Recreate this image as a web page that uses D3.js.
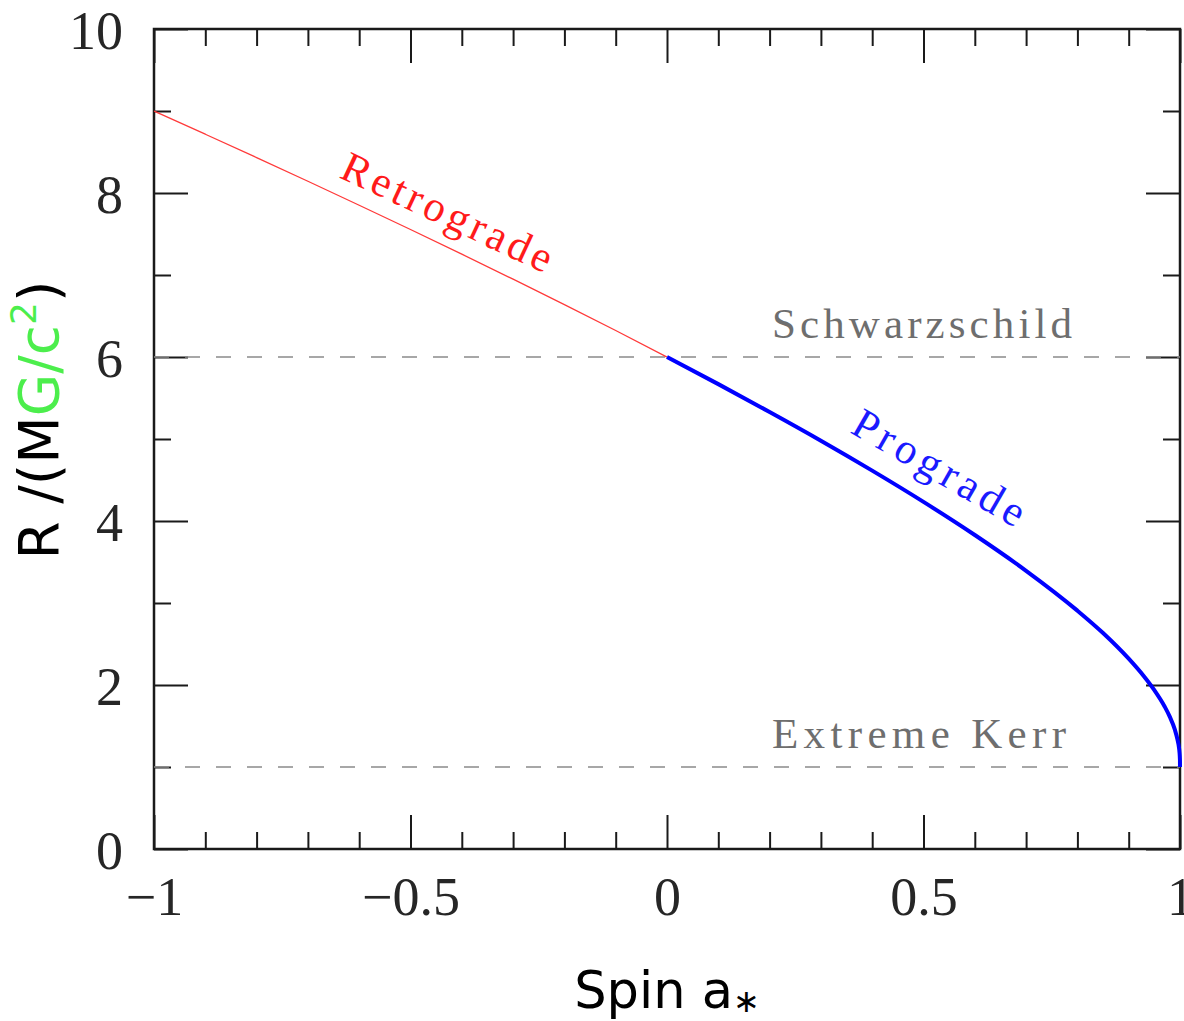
<!DOCTYPE html>
<html>
<head>
<meta charset="utf-8">
<script src="https://cdn.jsdelivr.net/npm/d3@7"></script>
<style>
  html, body { margin: 0; padding: 0; background: #fff; }
  svg { display: block; }
</style>
</head>
<body>
<svg id="chart" width="1184" height="1021"></svg>
<script>
// ---- Data ----
const retroSpin   = [-1, -0.9, -0.8, -0.7, -0.6, -0.5, -0.4, -0.3, -0.2, -0.1, 0];
const retroRadius = [9.0, 8.717, 8.432, 8.143, 7.851, 7.555, 7.254, 6.949, 6.639, 6.323, 6.0];
const proSpin     = [0, 0.1, 0.2, 0.3, 0.4, 0.5, 0.6, 0.7, 0.8, 0.85, 0.9, 0.93, 0.95, 0.97, 0.98, 0.99, 0.995, 0.998, 0.999, 0.9999, 1];
const proRadius   = [6.0, 5.669, 5.329, 4.979, 4.614, 4.233, 3.829, 3.393, 2.907, 2.634, 2.321, 2.104, 1.937, 1.738, 1.614, 1.455, 1.336, 1.237, 1.182, 1.084, 1.0];
const refLevels   = [6, 1];
const refNames    = ["Schwarzschild", "Extreme Kerr"];
const xMajorTicks = [-1, -0.5, 0, 0.5, 1];
const xMinorTicks = [-0.9, -0.8, -0.7, -0.6, -0.4, -0.3, -0.2, -0.1, 0.1, 0.2, 0.3, 0.4, 0.6, 0.7, 0.8, 0.9];
const xTickLabels = ["\u22121", "\u22120.5", "0", "0.5", "1"];
const yMajorTicks = [0, 2, 4, 6, 8, 10];
const yMinorTicks = [1, 3, 5, 7, 9];
const yTickLabels = ["0", "2", "4", "6", "8", "10"];

// ---- Layout ----
const L = 154, R = 1180, T = 29, B = 849;
const svg = d3.select("#chart");
const x = d3.scaleLinear().domain([-1, 1]).range([L, R]);
const y = d3.scaleLinear().domain([0, 10]).range([B, T]);

const AX = "#1a1a1a";
const serif = "'Liberation Serif', 'Times New Roman', serif";
const sans = "'DejaVu Sans', Verdana, sans-serif";

function styleAxis(g) {
  g.select(".domain").remove();
  g.selectAll(".tick line").attr("stroke", AX).attr("stroke-width", 2);
}

// bottom axis
svg.append("g").attr("transform", `translate(0,${B})`)
  .call(d3.axisBottom(x).tickValues(xMajorTicks).tickSize(-34).tickSizeOuter(0)
        .tickFormat((d, i) => xTickLabels[i]))
  .call(styleAxis)
  .call(g => g.selectAll(".tick text")
    .attr("y", 66).attr("dy", 0)
    .attr("font-family", serif).attr("font-size", 54).attr("fill", "#262626"));
svg.append("g").attr("transform", `translate(0,${B})`)
  .call(d3.axisBottom(x).tickValues(xMinorTicks).tickSize(-17).tickSizeOuter(0).tickFormat(""))
  .call(styleAxis);
// top axis
svg.append("g").attr("transform", `translate(0,${T})`)
  .call(d3.axisTop(x).tickValues(xMajorTicks).tickSize(-34).tickSizeOuter(0).tickFormat(""))
  .call(styleAxis);
svg.append("g").attr("transform", `translate(0,${T})`)
  .call(d3.axisTop(x).tickValues(xMinorTicks).tickSize(-17).tickSizeOuter(0).tickFormat(""))
  .call(styleAxis);
// left axis
svg.append("g").attr("transform", `translate(${L},0)`)
  .call(d3.axisLeft(y).tickValues(yMajorTicks).tickSize(-34).tickSizeOuter(0)
        .tickFormat((d, i) => yTickLabels[i]))
  .call(styleAxis)
  .call(g => g.selectAll(".tick text")
    .attr("x", -31).attr("dy", 19).attr("text-anchor", "end")
    .attr("font-family", serif).attr("font-size", 54).attr("fill", "#262626"));
svg.append("g").attr("transform", `translate(${L},0)`)
  .call(d3.axisLeft(y).tickValues(yMinorTicks).tickSize(-17).tickSizeOuter(0).tickFormat(""))
  .call(styleAxis);
// right axis
svg.append("g").attr("transform", `translate(${R},0)`)
  .call(d3.axisRight(y).tickValues(yMajorTicks).tickSize(-34).tickSizeOuter(0).tickFormat(""))
  .call(styleAxis);
svg.append("g").attr("transform", `translate(${R},0)`)
  .call(d3.axisRight(y).tickValues(yMinorTicks).tickSize(-17).tickSizeOuter(0).tickFormat(""))
  .call(styleAxis);

// frame
svg.append("rect").attr("x", L).attr("y", T).attr("width", R - L).attr("height", B - T)
  .attr("fill", "none").attr("stroke", AX).attr("stroke-width", 2.5);

// reference dashed lines
svg.selectAll("line.ref").data(refLevels).enter().append("line")
  .attr("class", "ref")
  .attr("x1", x(-1)).attr("x2", x(1))
  .attr("y1", d => y(d)).attr("y2", d => y(d))
  .attr("stroke", "#8a8a8a").attr("stroke-width", 1.6)
  .attr("stroke-dasharray", "15 16");

// reference labels
const refLabelLen = [300, 294];
svg.selectAll("text.refl").data(refLevels).enter().append("text")
  .attr("class", "refl")
  .attr("x", 772).attr("y", d => y(d) - 19)
  .attr("font-family", serif).attr("font-size", 43).attr("fill", "#6e6e6e")
  .attr("textLength", (d, i) => refLabelLen[i]).attr("lengthAdjust", "spacing")
  .text((d, i) => refNames[i]);

// curves
const line = d3.line().x(d => x(d[0])).y(d => y(d[1])).curve(d3.curveMonotoneX);
svg.append("path")
  .datum(retroSpin.map((s, i) => [s, retroRadius[i]]))
  .attr("d", line).attr("fill", "none")
  .attr("stroke", "#ff3a3a").attr("stroke-width", 1.3);
svg.append("path")
  .datum(proSpin.map((s, i) => [s, proRadius[i]]))
  .attr("d", line).attr("fill", "none")
  .attr("stroke", "#0000ff").attr("stroke-width", 4);

// curve labels
svg.append("text")
  .attr("transform", "translate(338,177) rotate(25)")
  .attr("font-family", serif).attr("font-size", 43).attr("fill", "#ff1a1a")
  .attr("textLength", 228).attr("lengthAdjust", "spacing")
  .text("Retrograde");
svg.append("text")
  .attr("transform", "translate(849,432) rotate(30)")
  .attr("font-family", serif).attr("font-size", 43).attr("fill", "#1a1aff")
  .attr("textLength", 192).attr("lengthAdjust", "spacing")
  .text("Prograde");

// x-axis title
const xt = svg.append("text")
  .attr("x", x(0)).attr("y", 1008).attr("text-anchor", "middle")
  .attr("font-family", sans).attr("font-size", 51).attr("fill", "#000");
xt.append("tspan").text("Spin a");
xt.append("tspan").attr("font-size", 32).attr("dy", 4).text("\u2217");

// y-axis title
const yt = svg.append("text")
  .attr("transform", "translate(58,420) rotate(-90)")
  .attr("text-anchor", "middle")
  .attr("font-family", sans).attr("font-size", 55).attr("fill", "#000");
yt.append("tspan").text("R /(M");
yt.append("tspan").attr("fill", "#4cee4c").text("G/c");
yt.append("tspan").attr("fill", "#4cee4c").attr("font-size", 36).attr("dy", -22).text("2");
yt.append("tspan").attr("dy", 22).text(")");
</script>
</body>
</html>
